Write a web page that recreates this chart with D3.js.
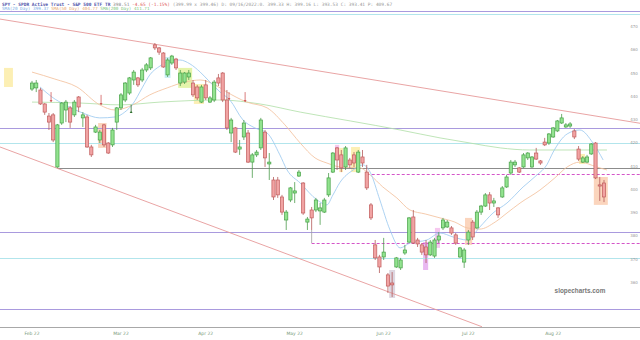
<!DOCTYPE html>
<html><head><meta charset="utf-8">
<script src="https://cdn.jsdelivr.net/npm/d3@7"></script>
<style>body{margin:0;background:#fff}svg{display:block}</style>
</head><body><svg id="c" width="640" height="340"></svg>
<script>
// ---- data ----
// [open, high, low, close]
const ohlc = [
[443.1,446.6,442.3,445.7],[443.6,447.0,441.8,445.7],[442.7,443.6,436.3,436.7],[436.7,437.1,432.0,433.2],[431.5,432.8,425.5,428.9],
[432.0,432.8,420.3,421.2],[409.6,428.1,409.2,427.7],[428.5,437.5,427.7,437.1],[434.1,438.4,428.9,437.5],[435.0,435.8,426.4,428.9],
[432.0,438.4,431.1,437.5],[439.7,440.1,433.2,435.4],[430.7,433.2,426.8,432.0],[431.1,432.0,417.8,418.2],[418.2,419.1,413.9,414.8],
[424.6,427.7,424.2,426.8],[421.2,425.5,419.9,424.6],[427.7,428.1,418.2,419.1],[419.9,420.3,415.2,415.6],[419.1,426.4,418.2,425.5],
[428.9,435.4,425.5,435.0],[435.0,441.4,434.1,440.6],[438.4,446.1,437.5,445.7],[441.4,448.3,440.6,447.9],[447.0,451.3,444.9,450.4],
[447.9,448.3,444.0,444.9],[447.0,452.2,446.1,451.3],[451.3,454.3,450.4,453.5],[452.2,456.9,451.3,456.5],[462.1,462.9,459.9,460.8],
[460.8,461.2,457.8,459.0],[458.6,459.0,452.2,452.6],[449.2,456.5,448.3,455.6],[454.3,457.8,453.5,457.3],[456.0,456.5,451.3,452.2],
[445.7,451.3,444.4,450.0],[446.1,450.4,445.3,450.0],[448.3,451.3,447.0,450.0],[445.7,447.0,439.7,440.6],[444.0,444.9,438.4,439.3],
[437.5,444.9,437.1,444.0],[444.9,447.0,438.4,439.3],[437.5,440.1,437.1,439.3],[438.4,447.0,437.5,446.1],[447.9,449.6,444.4,445.7],
[450.0,450.4,437.5,438.4],[438.4,442.7,425.5,426.4],[424.2,430.7,420.3,429.8],[426.4,426.8,415.6,416.0],[417.3,421.2,414.8,418.2],
[422.5,429.8,421.2,428.5],[424.2,425.5,411.3,411.7],[411.7,415.6,404.9,414.8],[414.8,416.9,413.9,416.0],[417.8,430.7,416.9,429.8],
[424.6,425.5,409.6,413.5],[410.9,415.6,404.0,411.7],[404.0,405.3,395.4,396.7],[404.0,405.3,396.3,397.6],[396.7,397.6,389.0,390.2],
[386.8,391.1,382.5,390.2],[395.4,401.0,394.5,400.6],[398.4,403.1,394.1,399.3],[405.7,408.3,405.3,407.4],[402.7,403.1,389.0,389.8],
[385.9,388.1,382.5,387.2],[391.1,392.4,382.5,387.7],[391.1,396.3,390.2,395.4],[390.7,394.1,384.7,392.0],[390.2,396.3,389.8,395.4],
[397.6,407.0,396.7,404.9],[407.4,416.0,407.0,415.6],[417.8,418.2,408.3,412.6],[414.8,416.9,407.4,409.2],[409.6,418.6,408.3,417.8],
[412.6,413.5,409.2,410.5],[414.8,416.0,409.6,411.3],[407.4,416.9,407.0,416.0],[413.9,416.9,409.6,411.3],[407.4,410.5,399.7,400.6],
[393.3,394.1,386.8,387.7],[376.1,378.2,369.6,370.5],[370.9,371.8,364.0,366.6],[370.9,379.1,369.6,373.0],[363.2,364.0,355.4,358.4],
[359.7,364.4,353.7,358.9],[366.6,370.9,366.2,370.5],[366.2,370.5,365.3,369.6],[372.6,376.1,371.8,373.9],[377.3,388.1,376.9,387.7],
[388.1,391.1,376.5,376.9],[378.2,379.1,375.2,376.5],[376.1,376.9,371.8,373.0],[375.2,378.2,368.3,371.8],[371.8,378.2,371.3,377.3],
[371.3,379.1,370.5,378.2],[378.2,381.6,376.9,379.9],[383.4,387.7,382.5,386.8],[383.8,386.8,383.4,385.9],[383.4,384.2,380.4,381.2],
[380.4,381.2,376.1,376.9],[370.9,375.2,370.5,374.8],[368.7,374.8,366.2,373.9],[378.2,382.5,376.1,381.6],[385.9,386.8,378.2,379.5],
[383.4,391.1,382.9,390.2],[390.2,393.3,389.0,392.8],[392.8,398.4,392.4,397.6],[397.6,398.8,391.1,394.1],[394.1,396.3,392.4,395.0],
[392.0,392.4,387.7,389.0],[396.7,401.4,396.3,400.6],[401.0,406.2,400.6,405.3],[407.0,412.6,406.2,411.7],[410.5,412.6,409.6,411.7],
[409.2,409.6,407.0,407.4],[409.6,415.6,409.2,414.8],[413.5,416.0,412.6,415.6],[409.6,414.3,409.2,413.9],[415.6,417.8,412.6,413.0],
[412.2,412.6,410.5,411.3],[420.3,422.1,418.6,419.1],[419.9,424.2,419.1,423.8],[422.5,426.8,422.1,426.4],[425.1,429.8,424.6,429.4],
[428.5,432.4,428.1,430.7],[426.8,428.5,426.4,427.7],[427.2,428.9,426.4,428.1],[425.1,425.9,421.6,422.5],[417.3,418.6,412.2,413.0],
[411.7,414.3,411.3,413.5],[411.7,414.8,411.3,413.9],[415.2,419.9,414.8,419.5],[419.9,420.3,404.4,404.9],[401.9,405.3,395.0,401.4],
[402.7,404.0,394.5,396.7]
];
// moving averages: [candle index, price]
const sma20 = [[1.9,444.0],[4.7,439.7],[7.8,436.3],[12.0,432.8],[16.0,430.7],[19.6,431.1],[21.9,433.2],[23.8,436.7],[26.0,443.6],[27.8,449.2],[30.2,453.0],[32.6,455.2],[34.9,455.6],[37.3,453.9],[39.7,450.4],[42.0,446.1],[44.4,441.8],[46.7,438.4],[49.8,429.8],[52.6,426.4],[55.5,424.2],[58.5,414.8],[60.2,408.3],[63.3,402.7],[67.3,395.4],[69.6,393.3],[71.0,397.5],[72.7,403.0],[75.8,408.3],[78.1,410.5],[79.8,407.4],[82.1,395.4],[84.5,382.5],[86.9,374.8],[89.2,376.9],[93.2,378.2],[96.3,381.2],[99.4,379.5],[102.7,378.2],[105.7,383.8],[108.8,389.8],[112.1,394.1],[115.9,401.0],[119.2,406.2],[121.5,410.5],[123.0,416.0],[126.3,423.8],[129.3,425.5],[132.4,419.9],[134.8,412.6]];
const sma50 = [[0,450.4],[5.4,447.4],[10.6,444.0],[16.0,436.3],[19.6,434.1],[23.8,436.3],[27.8,440.6],[31.9,443.6],[36.1,446.1],[39.7,447.0],[43.2,444.9],[46.0,441.8],[50.7,437.5],[55.5,435.0],[59.7,427.7],[63.3,419.9],[66.8,413.5],[69.6,411.3],[72.7,409.6],[77.4,409.2],[79.8,406.2],[82.8,401.0],[86.1,396.3],[89.2,391.1],[92.8,389.4],[96.3,387.7],[99.8,385.9],[102.7,383.4],[105.7,382.9],[109.3,385.9],[112.1,389.8],[115.2,394.1],[119.9,399.7],[123.4,404.9],[126.3,409.6],[129.3,411.7],[133.3,409.6],[135.7,408.3]];
const sma200 = [[0,437.5],[11.3,437.1],[20.8,436.3],[30.2,437.5],[44.4,438.4],[53.8,436.7],[63.3,433.2],[75.1,429.4],[86.9,425.5],[96.3,422.1],[103.4,419.9],[110.5,417.8],[117.5,416.9],[124.6,416.9],[135.7,416.9]];
// horizontal levels: [price, kind, start index]
const levels = [[476.7,'purple',null],[475.4,'cyan',null],[426.4,'purple',null],[419.9,'cyan',null],[409.2,'gray',6],[406.6,'dash',79],[381.6,'purple',null],[376.9,'dash',66],[370.5,'cyan',null],[348.5,'purple',null]];
// channel trend lines: [[index, price],[index, price]]
const trends = [[[-7.55,473.2],[143.5,428.4]],[[-7.55,418.2],[106.2,340.9]]];
// highlight boxes: [index from, index to, price top, price bottom, kind]
const highlights = [[-6.6,-4.5,452.2,444.0,'yellow'],[15.6,17.6,428.5,417.8,'orange'],[31.3,32.7,456.9,447.9,'cyan'],[34.5,37.8,452.2,443.6,'lime'],[38.2,40.6,445.3,436.7,'yellow'],[71.5,72.5,419.1,412.6,'pink'],[72.5,73.4,417.8,407.4,'yellow'],[75.3,77.4,418.2,407.4,'yellow'],[84.3,85.7,365.3,353.3,'gray'],[92.3,93.5,377.3,365.3,'purple'],[95.1,96.3,383.4,374.8,'pink'],[102.2,103.9,387.7,376.1,'orange'],[129.1,130.5,415.2,410.9,'yellow'],[132.6,135.9,405.3,393.3,'orange']];
// signal markers: [index, price top, price bottom, kind]
const markers = [[4.5,441.8,437.5,'sell'],[16.3,440.6,436.3,'sell'],[46.5,441.8,438.4,'sell'],[50.3,441.8,437.5,'sell'],[23.4,436.3,432.8,'buy']];
const priceTicks = [360,370,380,390,400,410,420,430,440,450,460,470];
const monthLabels = ["Feb 22","Mar 22","Apr 22","May 22","Jun 22","Jul 22","Aug 22"];
const monthIdx = [0,21,41,62,83,103,123];

// ---- drawing ----
const svg = d3.select('#c');
const x = d3.scaleLinear().domain([0,135]).range([32,604]);
const y = d3.scaleLinear().domain([350,470]).range([305.58,26.51]);
const hlColor = {yellow:'#fcefb4',orange:'#fbd5bd',cyan:'#c9eef3',lime:'#e4f4ab',pink:'#f6c8ef',gray:'#ddd6e0',purple:'#e9b8f1'};
const lvColor = {purple:'#a99ade',cyan:'#b2e5ec',gray:'#8c8c8c',dash:'#d455c8'};

svg.append('defs').append('clipPath').attr('id','clip').append('rect').attr('x',0).attr('y',0).attr('width',640).attr('height',327);
const plot = svg.append('g').attr('clip-path','url(#clip)');

plot.selectAll('rect.hl').data(highlights).join('rect').attr('class','hl')
  .attr('x',d=>x(d[0])).attr('width',d=>x(d[1])-x(d[0]))
  .attr('y',d=>y(d[2])).attr('height',d=>y(d[3])-y(d[2]))
  .attr('fill',d=>hlColor[d[4]]);

plot.selectAll('line.lv').data(levels).join('line').attr('class','lv')
  .attr('x1',d=>d[2]===null?0:x(d[2])).attr('x2',640)
  .attr('y1',d=>Math.round(y(d[0]))+0.5).attr('y2',d=>Math.round(y(d[0]))+0.5)
  .attr('stroke',d=>lvColor[d[1]]).attr('stroke-width',1)
  .attr('stroke-dasharray',d=>d[1]==='dash'?'3,2':null);
// connector from candle 66 low down to dashed level
plot.append('line').attr('x1',x(66)).attr('x2',x(66)).attr('y1',y(ohlc[66][2])).attr('y2',y(376.9))
  .attr('stroke','#a0a0a0').attr('stroke-width',0.8);

plot.selectAll('line.tr').data(trends).join('line').attr('class','tr')
  .attr('x1',d=>x(d[0][0])).attr('y1',d=>y(d[0][1])).attr('x2',d=>x(d[1][0])).attr('y2',d=>y(d[1][1]))
  .attr('stroke','#e79a9a').attr('stroke-width',0.9);

const line = d3.line().x(d=>x(d[0])).y(d=>y(d[1])).curve(d3.curveMonotoneX);
[[sma200,'#b4e0ab'],[sma50,'#f3c29e'],[sma20,'#9dcaf0']].forEach(([s,c])=>{
  plot.append('path').attr('d',line(s)).attr('fill','none').attr('stroke',c).attr('stroke-width',0.85);
});

const bw = 3.2;
const cg = plot.selectAll('g.cd').data(ohlc).join('g').attr('class','cd');
const up = d=>d[3]>=d[0];
cg.append('line').attr('x1',(d,i)=>x(i)).attr('x2',(d,i)=>x(i))
  .attr('y1',d=>y(d[1])).attr('y2',d=>y(d[2]))
  .attr('stroke',d=>up(d)?'#4d9c4d':'#b45a5a').attr('stroke-width',0.8);
cg.append('rect').attr('x',(d,i)=>x(i)-bw/2).attr('width',bw)
  .attr('y',d=>y(Math.max(d[0],d[3])))
  .attr('height',d=>Math.max(0.8,Math.abs(y(d[0])-y(d[3]))))
  .attr('fill',d=>up(d)?'#92e38f':'#f1a3a3')
  .attr('stroke',d=>up(d)?'#46a046':'#c05c5c').attr('stroke-width',0.7);

markers.forEach(m=>{
  const c = m[3]==='sell'?'#d05a5a':'#2f6f2f';
  const xm = x(m[0]), y0 = y(m[1]), y1 = y(m[2]);
  plot.append('line').attr('x1',xm).attr('x2',xm).attr('y1',y0).attr('y2',y1).attr('stroke',c).attr('stroke-width',0.8);
  if(m[3]==='sell') plot.append('path').attr('d',`M${xm-1.5},${y1-2}L${xm+1.5},${y1-2}L${xm},${y1}Z`).attr('fill',c);
  else plot.append('path').attr('d',`M${xm-1.5},${y1}L${xm+1.5},${y1}L${xm},${y1-2}Z`).attr('fill',c);
});

// axes
svg.append('line').attr('x1',0).attr('x2',640).attr('y1',327.5).attr('y2',327.5).attr('stroke','#a8a8a8').attr('stroke-width',1.2);
svg.selectAll('text.mx').data(monthLabels).join('text').attr('class','mx')
  .attr('x',(d,i)=>x(monthIdx[i])).attr('y',335).attr('text-anchor','middle')
  .attr('font-family','DejaVu Sans').attr('font-size',4.5).attr('fill','#7a9a7a').text(d=>d);
svg.selectAll('text.py').data(priceTicks).join('text').attr('class','py')
  .attr('x',634).attr('y',d=>y(d)+1.5).attr('text-anchor','middle')
  .attr('font-family','DejaVu Sans').attr('font-size',4).attr('fill','#999').text(d=>d);

// header
const h1 = svg.append('text').attr('x',2).attr('y',5.5).attr('font-family','DejaVu Sans Mono').attr('font-size',4.5);
h1.append('tspan').attr('font-weight','bold').attr('fill','#5155aa').text('SPY - SPDR Active Trust - S&P 500 ETF TR');
h1.append('tspan').attr('fill','#888').text(' 398.51');
h1.append('tspan').attr('fill','#e06060').text(' -4.65 (-1.15%)');
h1.append('tspan').attr('fill','#999').text(' (399.99 x 399.46) D: 09/16/2022:0. 399.33 H: 399.16 L: 393.53 C: 393.41 P: 409.67');
const h2 = svg.append('text').attr('x',2).attr('y',10).attr('font-family','DejaVu Sans Mono').attr('font-size',4.3);
h2.append('tspan').attr('fill','#7aaee6').text('SMA(20 Day) 399.37');
h2.append('tspan').attr('fill','#eaa86e').text(' SMA(50 Day) 404.77');
h2.append('tspan').attr('fill','#7cc77c').text(' SMA(200 Day) 411.71');

svg.append('text').attr('x',580).attr('y',293).attr('text-anchor','middle')
  .attr('font-family','Liberation Sans').attr('font-weight','bold').attr('font-size',6.4).attr('fill','#777').text('slopecharts.com');
</script></body></html>
